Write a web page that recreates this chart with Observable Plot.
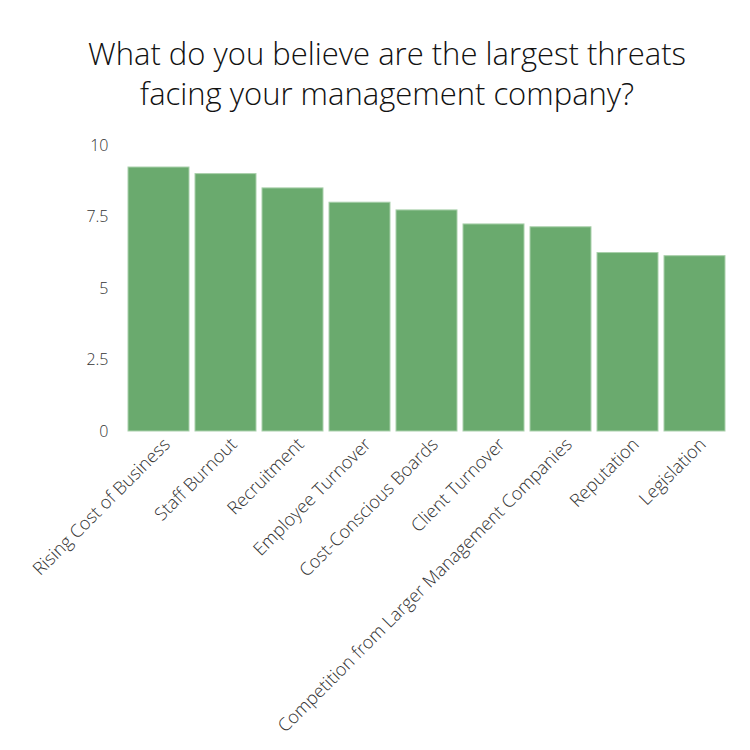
<!DOCTYPE html>
<html>
<head>
<meta charset="utf-8">
<script src="https://cdn.jsdelivr.net/npm/d3@7"></script>
<script src="https://cdn.jsdelivr.net/npm/@observablehq/plot@0.6"></script>
<style>
  html, body { margin: 0; padding: 0; background: #fff; }
  #title { width: 750px; box-sizing: border-box; padding-top: 33px; height: 125px;
           text-align: center; font-family: "Open Sans", "Noto Sans", sans-serif; font-weight: 300;
           font-size: 31px; line-height: 40px; color: #111; padding-left: 24px; }
</style>
</head>
<body>
<div id="title">What do you believe are the largest threats<br>facing your management company?</div>
<div id="chart"></div>
<script>
const categories = ["Rising Cost of Business", "Staff Burnout", "Recruitment", "Employee Turnover",
  "Cost-Conscious Boards", "Client Turnover", "Competition from Larger Management Companies",
  "Reputation", "Legislation"];
const scores = [9.23, 9.0, 8.5, 8.0, 7.73, 7.24, 7.14, 6.24, 6.13];
const yTicks = [0, 2.5, 5, 7.5, 10];

const data = categories.map((c, i) => ({category: c, score: scores[i]}));

const chart = Plot.plot({
  width: 750,
  height: 625,
  marginTop: 20,
  marginBottom: 319,
  marginLeft: 117,
  marginRight: 15,
  style: {fontFamily: "'Open Sans', 'Noto Sans', sans-serif", fontSize: "16px", fontWeight: 300, color: "#333", background: "#fff"},
  x: {domain: categories, padding: 0.09, label: null},
  y: {domain: [0, 10], label: null},
  marks: [
    Plot.barY(data, {x: "category", y: "score", fill: "#6aaa6e", stroke: "#a9d0ab", strokeWidth: 1}),
    Plot.axisY({ticks: yTicks, tickSize: 0, tickPadding: 9, tickFormat: d => String(d), fontSize: 16}),
    Plot.axisX({tickSize: 0, tickRotate: -45, tickPadding: 10, fontSize: 18, dx: 8})
  ]
});
document.getElementById("chart").appendChild(chart);
</script>
</body>
</html>
